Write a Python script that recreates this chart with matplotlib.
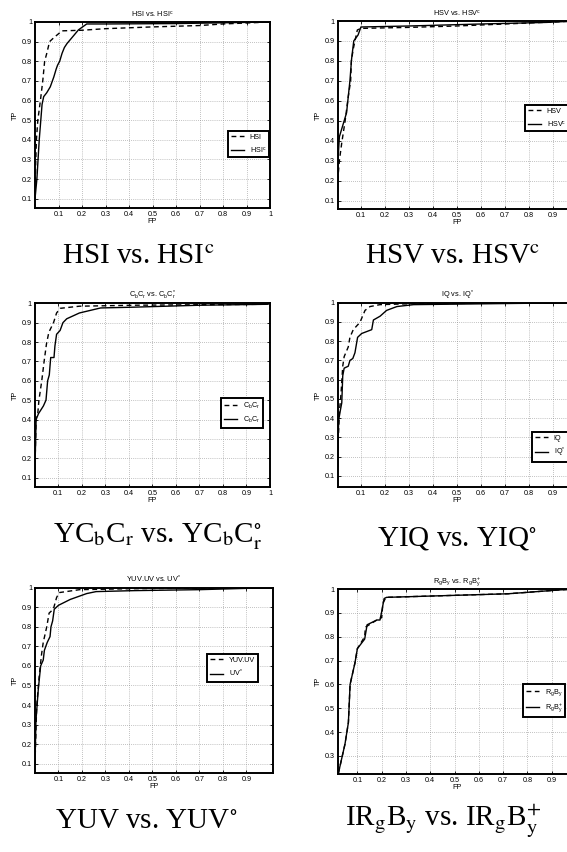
import matplotlib
matplotlib.use("Agg")
import matplotlib.pyplot as plt

plt.rcParams['font.family'] = ['Liberation Sans', 'DejaVu Sans']
plt.rcParams['mathtext.fontset'] = 'custom'
plt.rcParams['mathtext.rm'] = 'Liberation Sans'
plt.rcParams['mathtext.it'] = 'Liberation Sans'
plt.rcParams['mathtext.bf'] = 'Liberation Sans:bold'

# ---------------- data ----------------
# Panel 1: HSI vs HSI^c
hsi_fp = [0.0, 0.003, 0.006, 0.012, 0.023, 0.033, 0.041, 0.05, 0.062, 0.08, 0.1, 0.115, 0.2, 0.3, 0.5, 0.7, 0.8, 1.0]
hsi_tp = [0.1, 0.28, 0.4, 0.5, 0.6, 0.7, 0.8, 0.84, 0.9, 0.92, 0.94, 0.955, 0.958, 0.966, 0.975, 0.982, 0.99, 1.0]
hsic_fp = [0.0, 0.008, 0.018, 0.03, 0.037, 0.05, 0.065, 0.08, 0.09, 0.096, 0.105, 0.115, 0.125, 0.136, 0.157, 0.185, 0.22, 0.3, 0.6, 1.0]
hsic_tp = [0.1, 0.2, 0.4, 0.58, 0.62, 0.64, 0.67, 0.72, 0.76, 0.78, 0.8, 0.84, 0.87, 0.89, 0.92, 0.96, 0.99, 0.99, 0.992, 1.0]

# Panel 2: HSV vs HSV^c
hsv_fp = [0.003, 0.01, 0.02, 0.034, 0.047, 0.057, 0.06, 0.068, 0.075, 0.085, 0.1, 0.3, 0.5, 0.8, 1.0]
hsv_tp = [0.2, 0.3, 0.39, 0.5, 0.62, 0.7, 0.8, 0.86, 0.9, 0.955, 0.963, 0.968, 0.975, 0.99, 1.0]
hsvc_fp = [0.003, 0.005, 0.01, 0.025, 0.04, 0.047, 0.054, 0.061, 0.07, 0.088, 0.1, 0.3, 0.6, 0.875, 1.0]
hsvc_tp = [0.22, 0.32, 0.42, 0.48, 0.54, 0.62, 0.7, 0.81, 0.9, 0.93, 0.97, 0.975, 0.985, 0.993, 1.0]

# Panel 3: CbCr vs CbCr*
cbcr_fp = [0.0, 0.006, 0.013, 0.018, 0.03, 0.04, 0.05, 0.06, 0.08, 0.093, 0.108, 0.19, 0.42, 0.986, 1.0]
cbcr_tp = [0.09, 0.41, 0.43, 0.5, 0.6, 0.7, 0.79, 0.85, 0.9, 0.95, 0.974, 0.985, 0.99, 0.995, 1.0]
cbcrs_fp = [0.0, 0.006, 0.016, 0.037, 0.048, 0.055, 0.062, 0.068, 0.082, 0.086, 0.093, 0.108, 0.12, 0.136, 0.19, 0.28, 0.42, 0.7, 0.99, 1.0]
cbcrs_tp = [0.09, 0.4, 0.43, 0.47, 0.5, 0.6, 0.63, 0.72, 0.72, 0.78, 0.84, 0.86, 0.9, 0.92, 0.95, 0.976, 0.98, 0.99, 0.995, 1.0]

# Panel 4: IQ vs IQ*
iq_fp = [0.003, 0.004, 0.01, 0.017, 0.024, 0.03, 0.047, 0.054, 0.068, 0.09, 0.1, 0.117, 0.138, 0.18, 0.32, 1.0]
iq_tp = [0.15, 0.25, 0.43, 0.53, 0.67, 0.72, 0.77, 0.82, 0.86, 0.89, 0.91, 0.96, 0.98, 0.99, 0.995, 1.0]
iqs_fp = [0.003, 0.004, 0.007, 0.014, 0.02, 0.024, 0.03, 0.047, 0.054, 0.066, 0.075, 0.086, 0.103, 0.145, 0.152, 0.18, 0.207, 0.25, 0.32, 1.0]
iqs_tp = [0.15, 0.25, 0.39, 0.44, 0.48, 0.62, 0.66, 0.67, 0.7, 0.71, 0.74, 0.82, 0.84, 0.86, 0.91, 0.93, 0.96, 0.98, 0.99, 1.0]

# Panel 5: YUV.UV vs UV*
yuv_fp = [0.0, 0.007, 0.018, 0.028, 0.035, 0.05, 0.06, 0.078, 0.092, 0.103, 0.19, 0.42, 1.0]
yuv_tp = [0.1, 0.39, 0.55, 0.66, 0.72, 0.8, 0.87, 0.89, 0.95, 0.975, 0.99, 0.995, 1.0]
uvs_fp = [0.0, 0.004, 0.014, 0.024, 0.035, 0.04, 0.052, 0.064, 0.068, 0.075, 0.082, 0.1, 0.15, 0.22, 0.26, 0.42, 0.7, 1.0]
uvs_tp = [0.1, 0.32, 0.48, 0.6, 0.63, 0.68, 0.72, 0.75, 0.8, 0.83, 0.89, 0.91, 0.94, 0.97, 0.98, 0.985, 0.99, 1.0]

# Panel 6: RgBy vs RgBy+
rgby_fp = [0.022, 0.049, 0.063, 0.07, 0.09, 0.1, 0.13, 0.133, 0.18, 0.2, 0.205, 0.215, 0.22, 0.72, 0.93, 1.0]
rgby_tp = [0.228, 0.35, 0.44, 0.6, 0.69, 0.75, 0.8, 0.84, 0.87, 0.88, 0.94, 0.96, 0.965, 0.98, 0.996, 1.0]
rgbyp_fp = [0.022, 0.049, 0.063, 0.07, 0.09, 0.1, 0.13, 0.14, 0.18, 0.193, 0.2, 0.21, 0.22, 0.72, 0.93, 1.0]
rgbyp_tp = [0.228, 0.35, 0.44, 0.6, 0.69, 0.75, 0.79, 0.85, 0.87, 0.87, 0.905, 0.96, 0.965, 0.98, 0.996, 1.0]

titles = [r"HSI vs. HSI$^\mathrm{c}$", r"HSV vs. HSV$^\mathrm{c}$",
          r"C$_\mathrm{b}$C$_\mathrm{r}$ vs. C$_\mathrm{b}$C$_\mathrm{r}^{*}$", r"IQ vs. IQ$^{*}$",
          r"YUV.UV vs. UV$^{*}$", r"R$_\mathrm{g}$B$_\mathrm{y}$ vs. R$_\mathrm{g}$B$_\mathrm{y}^{+}$"]
legends = [("HSI", r"HSI$^\mathrm{c}$"), ("HSV", r"HSV$^\mathrm{c}$"),
           (r"C$_\mathrm{b}$C$_\mathrm{r}$", r"C$_\mathrm{b}$C$_\mathrm{r}$"), ("IQ", r"IQ$^{*}$"),
           ("YUV.UV", r"UV$^{*}$"), (r"R$_\mathrm{g}$B$_\mathrm{y}$", r"R$_\mathrm{g}$B$_\mathrm{y}^{+}$")]
captions = [r"HSI vs. HSI$^\mathrm{c}$", r"HSV vs. HSV$^\mathrm{c}$",
            r"YC$_\mathrm{b}$C$_\mathrm{r}$ vs. YC$_\mathrm{b}$C$_\mathrm{r}^{\circ}$",
            r"YIQ vs. YIQ$^{\circ}$", r"YUV vs. YUV$^{\circ}$",
            r"IR$_\mathrm{g}$B$_\mathrm{y}$ vs. IR$_\mathrm{g}$B$_\mathrm{y}^{+}$"]

series = [(hsi_fp, hsi_tp, hsic_fp, hsic_tp), (hsv_fp, hsv_tp, hsvc_fp, hsvc_tp),
          (cbcr_fp, cbcr_tp, cbcrs_fp, cbcrs_tp), (iq_fp, iq_tp, iqs_fp, iqs_tp),
          (yuv_fp, yuv_tp, uvs_fp, uvs_tp), (rgby_fp, rgby_tp, rgbyp_fp, rgbyp_tp)]

# ---------------- layout (pixels) ----------------
W, H = 567, 852
fig = plt.figure(figsize=(W / 100, H / 100), dpi=100)

ticks10 = [0.1 * i for i in range(1, 11)]
# x0, x1, ytop, ybot, xlim, ylim, xticks, yticks, show label at x=1
layout = [
    (35, 270, 22, 208, (0.0, 1.0), (0.053, 1.0), ticks10, ticks10, True),
    (337.7, 576.6, 21, 209, (0.003, 1.0), (0.058, 1.0), ticks10, ticks10, False),
    (34.7, 270, 303.3, 487.3, (0.0, 1.0), (0.05, 1.0), ticks10, ticks10, True),
    (337.7, 576.6, 302.7, 487.3, (0.003, 1.0), (0.041, 1.0), ticks10, ticks10, False),
    (35, 273, 587.7, 773.3, (0.0, 1.013), (0.051, 1.0), ticks10[:9], ticks10, False),
    (337.7, 576.1, 589, 774.3, (0.019, 1.0), (0.223, 1.0), ticks10, ticks10[2:], False),
]
legend_pos = [(228, 131), (525, 105), (221, 398), (532, 432), (207, 654), (523, 684)]
caption_pos = [(62, 264), (365, 264), (53, 542), (377, 545), (55, 828), (345, 826)]


def fmt(v):
    s = "%.1f" % v
    return "1" if s == "1.0" else s


for i in range(6):
    x0, x1, yt, yb, xl, yl, xt, yt_ticks, show1 = layout[i]
    ax = fig.add_axes([x0 / W, 1 - yb / H, (x1 - x0) / W, (yb - yt) / H])
    fa, ta, fb, tb = series[i]
    l1, = ax.plot(fa, ta, color='black', lw=1.0, linestyle=(0, (3.5, 2.5)))
    l2, = ax.plot(fb, tb, color='black', lw=1.0, linestyle='-')
    ax.set_xlim(*xl)
    ax.set_ylim(*yl)
    ax.set_xticks(xt)
    xlabels = [fmt(v) for v in xt]
    if not show1 and xlabels[-1] == "1":
        xlabels[-1] = ""
    ax.set_xticklabels(xlabels)
    ax.set_yticks(yt_ticks)
    ax.set_yticklabels([fmt(v) for v in yt_ticks])
    ax.grid(True, linestyle=(0, (1, 2)), color='#888888', linewidth=0.5)
    ax.tick_params(direction='in', length=2.5, width=0.6, labelsize=5.2, pad=2,
                   top=True, right=True)
    for sp in ax.spines.values():
        sp.set_linewidth(1.4)
    ax.set_xlabel("FP", fontsize=5.2, labelpad=0)
    ax.set_ylabel("TP", fontsize=5.2, labelpad=2)
    ax.set_title(titles[i], fontsize=5.3, pad=4)
    lx, ly = legend_pos[i]
    leg = ax.legend([l1, l2], legends[i], loc='upper left',
                    bbox_to_anchor=(lx / W, 1 - ly / H), bbox_transform=fig.transFigure,
                    fontsize=5.2, frameon=True, fancybox=False, framealpha=1,
                    borderpad=0.4, labelspacing=0.5, handlelength=1.8,
                    handletextpad=0.8, borderaxespad=0)
    leg.get_frame().set_edgecolor('black')
    leg.get_frame().set_linewidth(1.4)
    cx, cy = caption_pos[i]
    fig.text(cx / W, 1 - cy / H, captions[i], fontsize=21, family='Liberation Serif',
             math_fontfamily='stix', ha='left', va='baseline')

fig.savefig("out.png", dpi=100)
